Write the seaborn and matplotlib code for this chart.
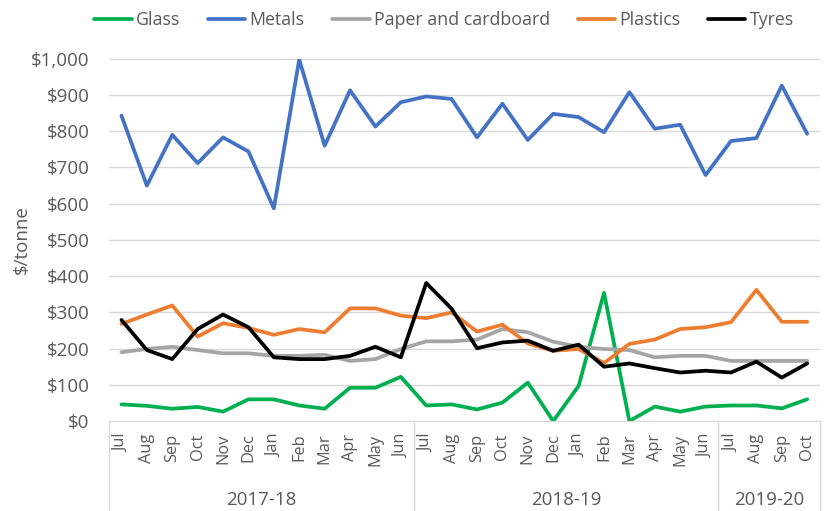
import numpy as np
import pandas as pd
import seaborn as sns
import matplotlib.pyplot as plt
from matplotlib.ticker import FuncFormatter

# monthly prices, Jul 2017 - Oct 2019
months = ["Jul", "Aug", "Sep", "Oct", "Nov", "Dec", "Jan", "Feb", "Mar", "Apr", "May", "Jun",
          "Jul", "Aug", "Sep", "Oct", "Nov", "Dec", "Jan", "Feb", "Mar", "Apr", "May", "Jun",
          "Jul", "Aug", "Sep", "Oct"]
years = ["2017-18", "2018-19", "2019-20"]
year_len = [12, 12, 4]

glass = [46, 42, 34, 39, 26, 60, 60, 43, 34, 92, 92, 122,
         43, 46, 32, 51, 106, 0, 97, 354, 0, 40, 26, 40,
         43, 43, 35, 60]
metals = [843, 650, 790, 712, 783, 744, 587, 998, 760, 913, 813, 880,
          896, 889, 783, 876, 776, 848, 839, 797, 908, 807, 818, 679,
          773, 781, 926, 793]
paper = [190, 199, 205, 196, 187, 187, 180, 180, 183, 166, 171, 199,
         220, 220, 225, 254, 245, 219, 205, 199, 196, 176, 180, 180,
         166, 166, 166, 166]
plastics = [268, 294, 319, 233, 270, 257, 238, 254, 245, 311, 311, 291,
            284, 300, 247, 266, 214, 194, 199, 160, 213, 225, 254, 259,
            273, 362, 274, 274]
tyres = [279, 196, 171, 254, 294, 259, 176, 171, 171, 180, 205, 176,
         381, 310, 201, 217, 222, 194, 211, 150, 159, 146, 134, 139,
         134, 164, 120, 159]

series = {"Glass": glass, "Metals": metals, "Paper and cardboard": paper,
          "Plastics": plastics, "Tyres": tyres}
colors = ["#00B050", "#4472C4", "#A5A5A5", "#ED7D31", "#000000"]

rows = []
for name, vals in series.items():
    for i, v in enumerate(vals):
        rows.append({"idx": i, "value": v, "Material": name})
df = pd.DataFrame(rows)

sns.set_style("white")
plt.rcParams["font.family"] = ["Open Sans", "DejaVu Sans"]
grey = "#595959"
fs = 13.5

fig = plt.figure(figsize=(8.24, 5.11), dpi=100)
ax = fig.add_axes([0.132, 0.176, 0.863, 0.709])

sns.lineplot(data=df, x="idx", y="value", hue="Material", palette=colors,
             linewidth=2.7, ax=ax)

ax.set_xlim(-0.5, len(months) - 0.5)
ax.set_ylim(0, 1000)
ax.set_yticks(np.arange(0, 1001, 100))
ax.yaxis.set_major_formatter(FuncFormatter(lambda v, p: "\\${:,.0f}".format(v)))
ax.grid(axis="y", color="#D9D9D9", linewidth=1)
ax.set_axisbelow(True)
for s in ["left", "right", "top"]:
    ax.spines[s].set_visible(False)
ax.spines["bottom"].set_color("#D9D9D9")

ax.set_xticks(range(len(months)))
ax.set_xticklabels(months, rotation=90, fontsize=11.8, color=grey)
ax.tick_params(axis="x", length=0, pad=9)
ax.tick_params(axis="y", length=0, labelsize=fs, labelcolor=grey, pad=14)
ax.set_xlabel("")
ax.set_ylabel("\\$/tonne", fontsize=fs, color=grey, labelpad=0)

# year groups under month labels
trans = ax.get_xaxis_transform()
start = 0
bounds = [-0.5]
for yr, n in zip(years, year_len):
    ax.text(start + (n - 1) / 2, -0.218, yr, transform=trans, ha="center", va="center",
            fontsize=fs, color=grey)
    start += n
    bounds.append(start - 0.5)
for b in bounds:
    ax.plot([b, b], [0, -0.26], transform=trans, color="#D9D9D9", linewidth=1, clip_on=False)

ax.legend(loc="upper center", bbox_to_anchor=(0.539, 1.01), bbox_transform=fig.transFigure,
          ncol=5, frameon=False, fontsize=12.8, handlelength=2.1, handletextpad=0.25,
          columnspacing=1.55, labelcolor=grey)

fig.savefig("out.png", dpi=100)
